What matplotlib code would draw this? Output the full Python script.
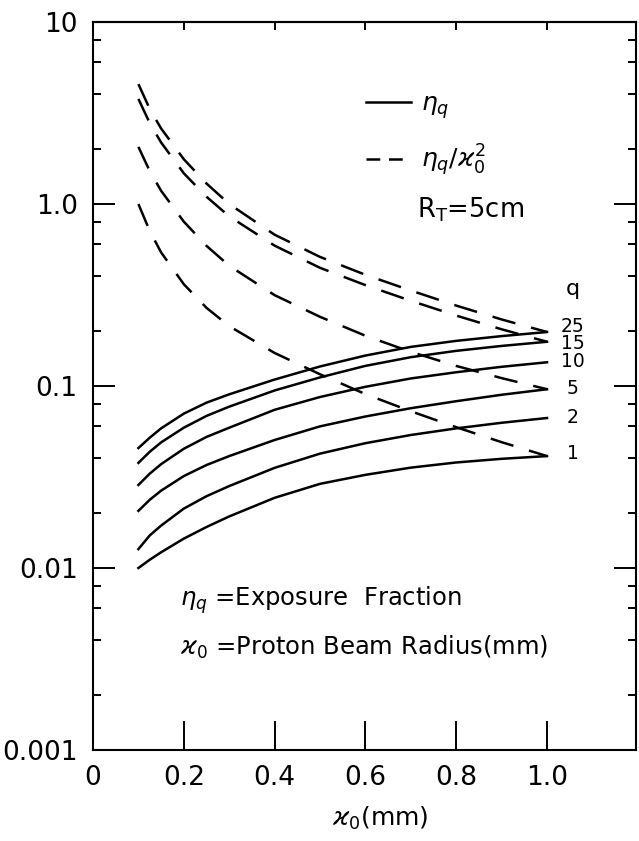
import numpy as np
import matplotlib
matplotlib.use("Agg")
import matplotlib.pyplot as plt
from matplotlib.lines import Line2D
from matplotlib.ticker import LogLocator, NullFormatter, FixedLocator

plt.rcParams['font.family'] = ['DejaVu Sans']
plt.rcParams['mathtext.fontset'] = 'dejavusans'

# beam radius r0 (mm)
kappa = [0.1, 0.125, 0.15, 0.2, 0.25, 0.3, 0.4, 0.5, 0.6, 0.7, 0.8, 0.9, 1.0]

# exposure fraction eta_q
eta = {
    25: [0.0456, 0.052, 0.0585, 0.0705, 0.081, 0.090, 0.1085, 0.128, 0.147, 0.164, 0.177, 0.188, 0.198],
    15: [0.0378, 0.0435, 0.049, 0.059, 0.0685, 0.077, 0.0945, 0.1115, 0.129, 0.144, 0.156, 0.166, 0.175],
    10: [0.0286, 0.033, 0.0372, 0.0452, 0.0525, 0.059, 0.074, 0.087, 0.099, 0.110, 0.119, 0.1275, 0.135],
    5:  [0.0206, 0.0237, 0.0266, 0.032, 0.0368, 0.0412, 0.0505, 0.060, 0.068, 0.0755, 0.0825, 0.0895, 0.096],
    2:  [0.0127, 0.0151, 0.0171, 0.0212, 0.0248, 0.0282, 0.0355, 0.0425, 0.0485, 0.0538, 0.0585, 0.0628, 0.0667],
    1:  [0.0100, 0.0111, 0.0122, 0.0145, 0.0168, 0.0192, 0.0243, 0.0290, 0.0325, 0.0356, 0.0380, 0.0398, 0.0412],
}
# q values that also get the eta_q / r0^2 dashed curve
dashed_q = [25, 15, 5, 1]
# where the q numbers sit at the right-hand end
label_y = {25: 0.2136, 15: 0.172, 10: 0.1355, 5: 0.0974, 2: 0.0668, 1: 0.0428}

xticks = [0, 0.2, 0.4, 0.6, 0.8, 1.0]
xticklabels = ['0', '0.2', '0.4', '0.6', '0.8', '1.0']
yticks = [0.001, 0.01, 0.1, 1.0, 10]
yticklabels = ['0.001', '0.01', '0.1', '1.0', '10']

W, H = 639, 841
fig = plt.figure(figsize=(W / 100, H / 100), dpi=100)
ax = fig.add_axes([93 / W, 1 - 750 / H, (636 - 93) / W, (750 - 22) / H])

lw = 1.8
dash = (0, (9.5, 6.5))
x = np.array(kappa)
for q, vals in eta.items():
    ax.plot(x, vals, color='black', lw=lw)
for q in dashed_q:
    ax.plot(x, np.array(eta[q]) / x**2, color='black', lw=lw, ls=dash)

ax.set_yscale('log')
ax.set_xlim(0, 1.196)
ax.set_ylim(0.001, 10)

ax.set_xticks(xticks)
ax.set_xticklabels(xticklabels, fontsize=19)
ax.set_yticks(yticks)
ax.set_yticklabels(yticklabels, fontsize=19)
ax.yaxis.set_minor_locator(LogLocator(base=10, subs=(2, 4, 6, 8)))
ax.yaxis.set_minor_formatter(NullFormatter())
ax.xaxis.set_minor_locator(FixedLocator([]))

ax.tick_params(axis='x', which='major', direction='in', length=21, width=1.4,
               bottom=True, top=False, pad=11)
ax.tick_params(axis='y', which='major', direction='in', length=16, width=1.4,
               left=True, right=True, pad=11)
ax.tick_params(axis='y', which='minor', direction='in', length=6, width=1.4,
               left=True, right=True)
for s in ax.spines.values():
    s.set_linewidth(1.5)

top = ax.secondary_xaxis('top')
top.set_xticks(xticks[1:])
top.tick_params(direction='in', length=6, width=1.4, labeltop=False)
top.spines['top'].set_linewidth(1.5)

# curve labels
for q in eta:
    ax.text(1.057, label_y[q], str(q), fontsize=13.5, ha='center', va='center')
ax.text(1.057, 0.34, 'q', fontsize=16, ha='center', va='center')

handles = [Line2D([], [], color='black', lw=lw),
           Line2D([], [], color='black', lw=lw, ls=(0, (5.5, 3.5)))]
ax.legend(handles, [r'$\eta_q$', r'$\eta_q/\varkappa_0^2$'], loc='upper left',
          bbox_to_anchor=(0.48, 0.921), frameon=False, fontsize=18,
          handlelength=1.8, handletextpad=0.4, labelspacing=0.85, borderpad=0)

ax.text(0.597, 0.742, r'R$_\mathrm{T}$=5cm', fontsize=18.5, ha='left', va='center',
        transform=ax.transAxes)
ax.text(0.16, 0.206, r'$\eta_q$ =Exposure  Fraction', fontsize=17.5,
        ha='left', va='center', transform=ax.transAxes)
ax.text(0.16, 0.1415, r'$\varkappa_0$ =Proton Beam Radius(mm)', fontsize=17.5,
        ha='left', va='center', transform=ax.transAxes)

fig.text(380 / W, 1 - 818 / H, r'$\varkappa_0$(mm)', fontsize=18,
         ha='center', va='center')

fig.savefig('out.png', dpi=100)
